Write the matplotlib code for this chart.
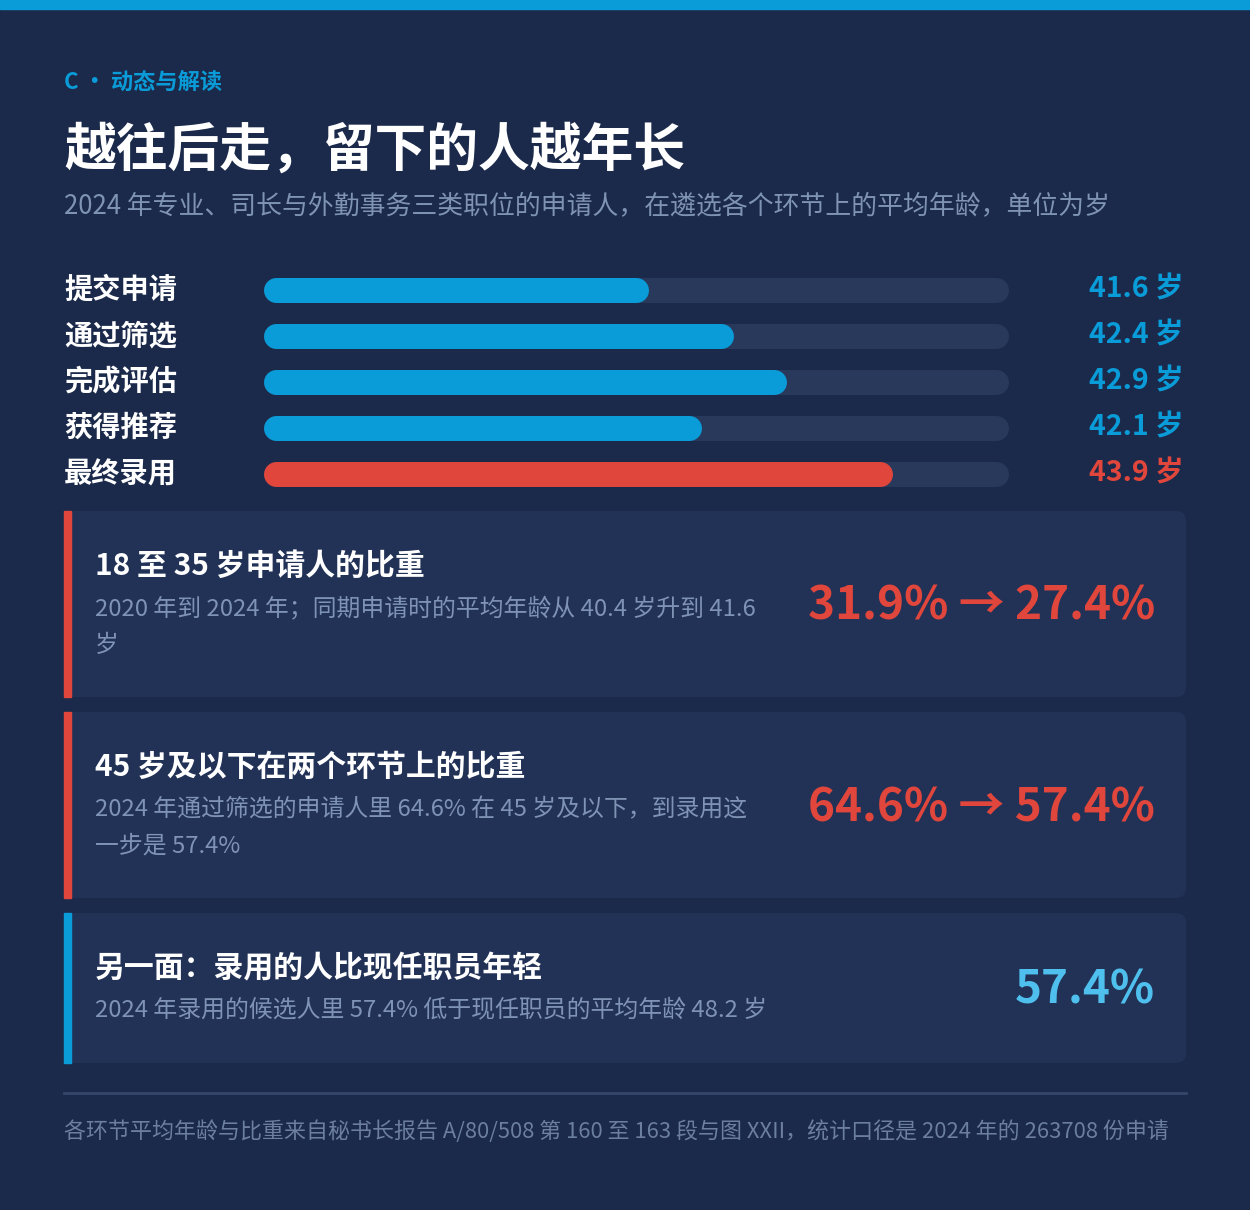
import matplotlib
matplotlib.use('Agg')
import matplotlib.pyplot as plt
from matplotlib.patches import FancyBboxPatch, Rectangle

plt.rcParams['font.family'] = ['Noto Sans CJK SC', 'DejaVu Sans']

stages = ['提交申请', '通过筛选', '完成评估', '获得推荐', '最终录用']
ages = [41.6, 42.4, 42.9, 42.1, 43.9]
age_min, age_max = 38.2, 45.0

card_titles = ['18 至 35 岁申请人的比重', '45 岁及以下在两个环节上的比重', '另一面：录用的人比现任职员年轻']
card_notes = [['2020 年到 2024 年；同期申请时的平均年龄从 40.4 岁升到 41.6', '岁'],
              ['2024 年通过筛选的申请人里 64.6% 在 45 岁及以下，到录用这', '一步是 57.4%'],
              ['2024 年录用的候选人里 57.4% 低于现任职员的平均年龄 48.2 岁']]
card_values = ['31.9% → 27.4%', '64.6% → 57.4%', '57.4%']

BG = '#1b2a4b'
TRACK = '#28395c'
CARD = '#223257'
BLUE = '#0a9cd8'
RED = '#e0463b'
LIGHT = '#4fc0ee'
MUTED = '#7f93b4'

W, H = 1250, 1210
fig = plt.figure(figsize=(W / 100, H / 100), dpi=100, facecolor=BG)
ax = fig.add_axes([0, 0, 1, 1])
ax.set_xlim(0, W)
ax.set_ylim(H, 0)
ax.axis('off')

ax.add_patch(Rectangle((0, 0), W, 9, color=BLUE))
ax.text(64, 82, 'C · 动态与解读', color=BLUE, fontsize=16, fontweight='bold', va='center')
ax.text(64, 150, '越往后走，留下的人越年长', color='white', fontsize=37.3, fontweight='bold', va='center')
ax.text(64, 206, '2024 年专业、司长与外勤事务三类职位的申请人，在遴选各个环节上的平均年龄，单位为岁',
        color=MUTED, fontsize=18.6, va='center')

# bar panel in its own axes, value scale on x
bax = fig.add_axes([276 / W, 1 - 497 / H, 720 / W, 230 / H])
bax.set_xlim(age_min, age_max)
bax.set_ylim(len(stages) - 0.5, -0.5)
bax.axis('off')
for i, (s, a) in enumerate(zip(stages, ages)):
    c = RED if i == len(stages) - 1 else BLUE
    bax.plot([age_min, age_max], [i, i], color=TRACK, lw=18, solid_capstyle='round', clip_on=False)
    bax.plot([age_min, a], [i, i], color=c, lw=18, solid_capstyle='round', clip_on=False)
    y = 290 + 46 * i
    ax.text(64, y, s, color='white', fontsize=20.3, fontweight='bold', va='center')
    ax.text(1184, y, f'{a} 岁', color=c, fontsize=20.5, fontweight='bold', va='center', ha='right')

tops = [511, 712, 913]
hts = [186, 186, 150]
for k in range(3):
    t, h = tops[k], hts[k]
    ax.add_patch(FancyBboxPatch((64, t), 1122, h, boxstyle='round,pad=0,rounding_size=10',
                                fc=CARD, ec='none'))
    accent = BLUE if k == 2 else RED
    ax.add_patch(Rectangle((64, t), 7, h, color=accent))
    ax.text(95, t + 55, card_titles[k], color='white', fontsize=21.5, fontweight='bold', va='center')
    for j, line in enumerate(card_notes[k]):
        ax.text(95, t + 98 + 36 * j, line, color=MUTED, fontsize=17.2, va='center')
    if k < 2:
        ax.text(1155, t + 96, card_values[k], color=RED, fontsize=33, fontweight='bold', va='center', ha='right')
    else:
        ax.text(1155, t + 78, card_values[k], color=LIGHT, fontsize=33, fontweight='bold', va='center', ha='right')

ax.plot([64, 1186], [1093, 1093], color='#34476b', lw=2)
ax.text(64, 1132, '各环节平均年龄与比重来自秘书长报告 A/80/508 第 160 至 163 段与图 XXII，统计口径是 2024 年的 263708 份申请',
        color='#6c7f9f', fontsize=15.8, va='center')

fig.savefig('out.png', dpi=100, facecolor=BG)
